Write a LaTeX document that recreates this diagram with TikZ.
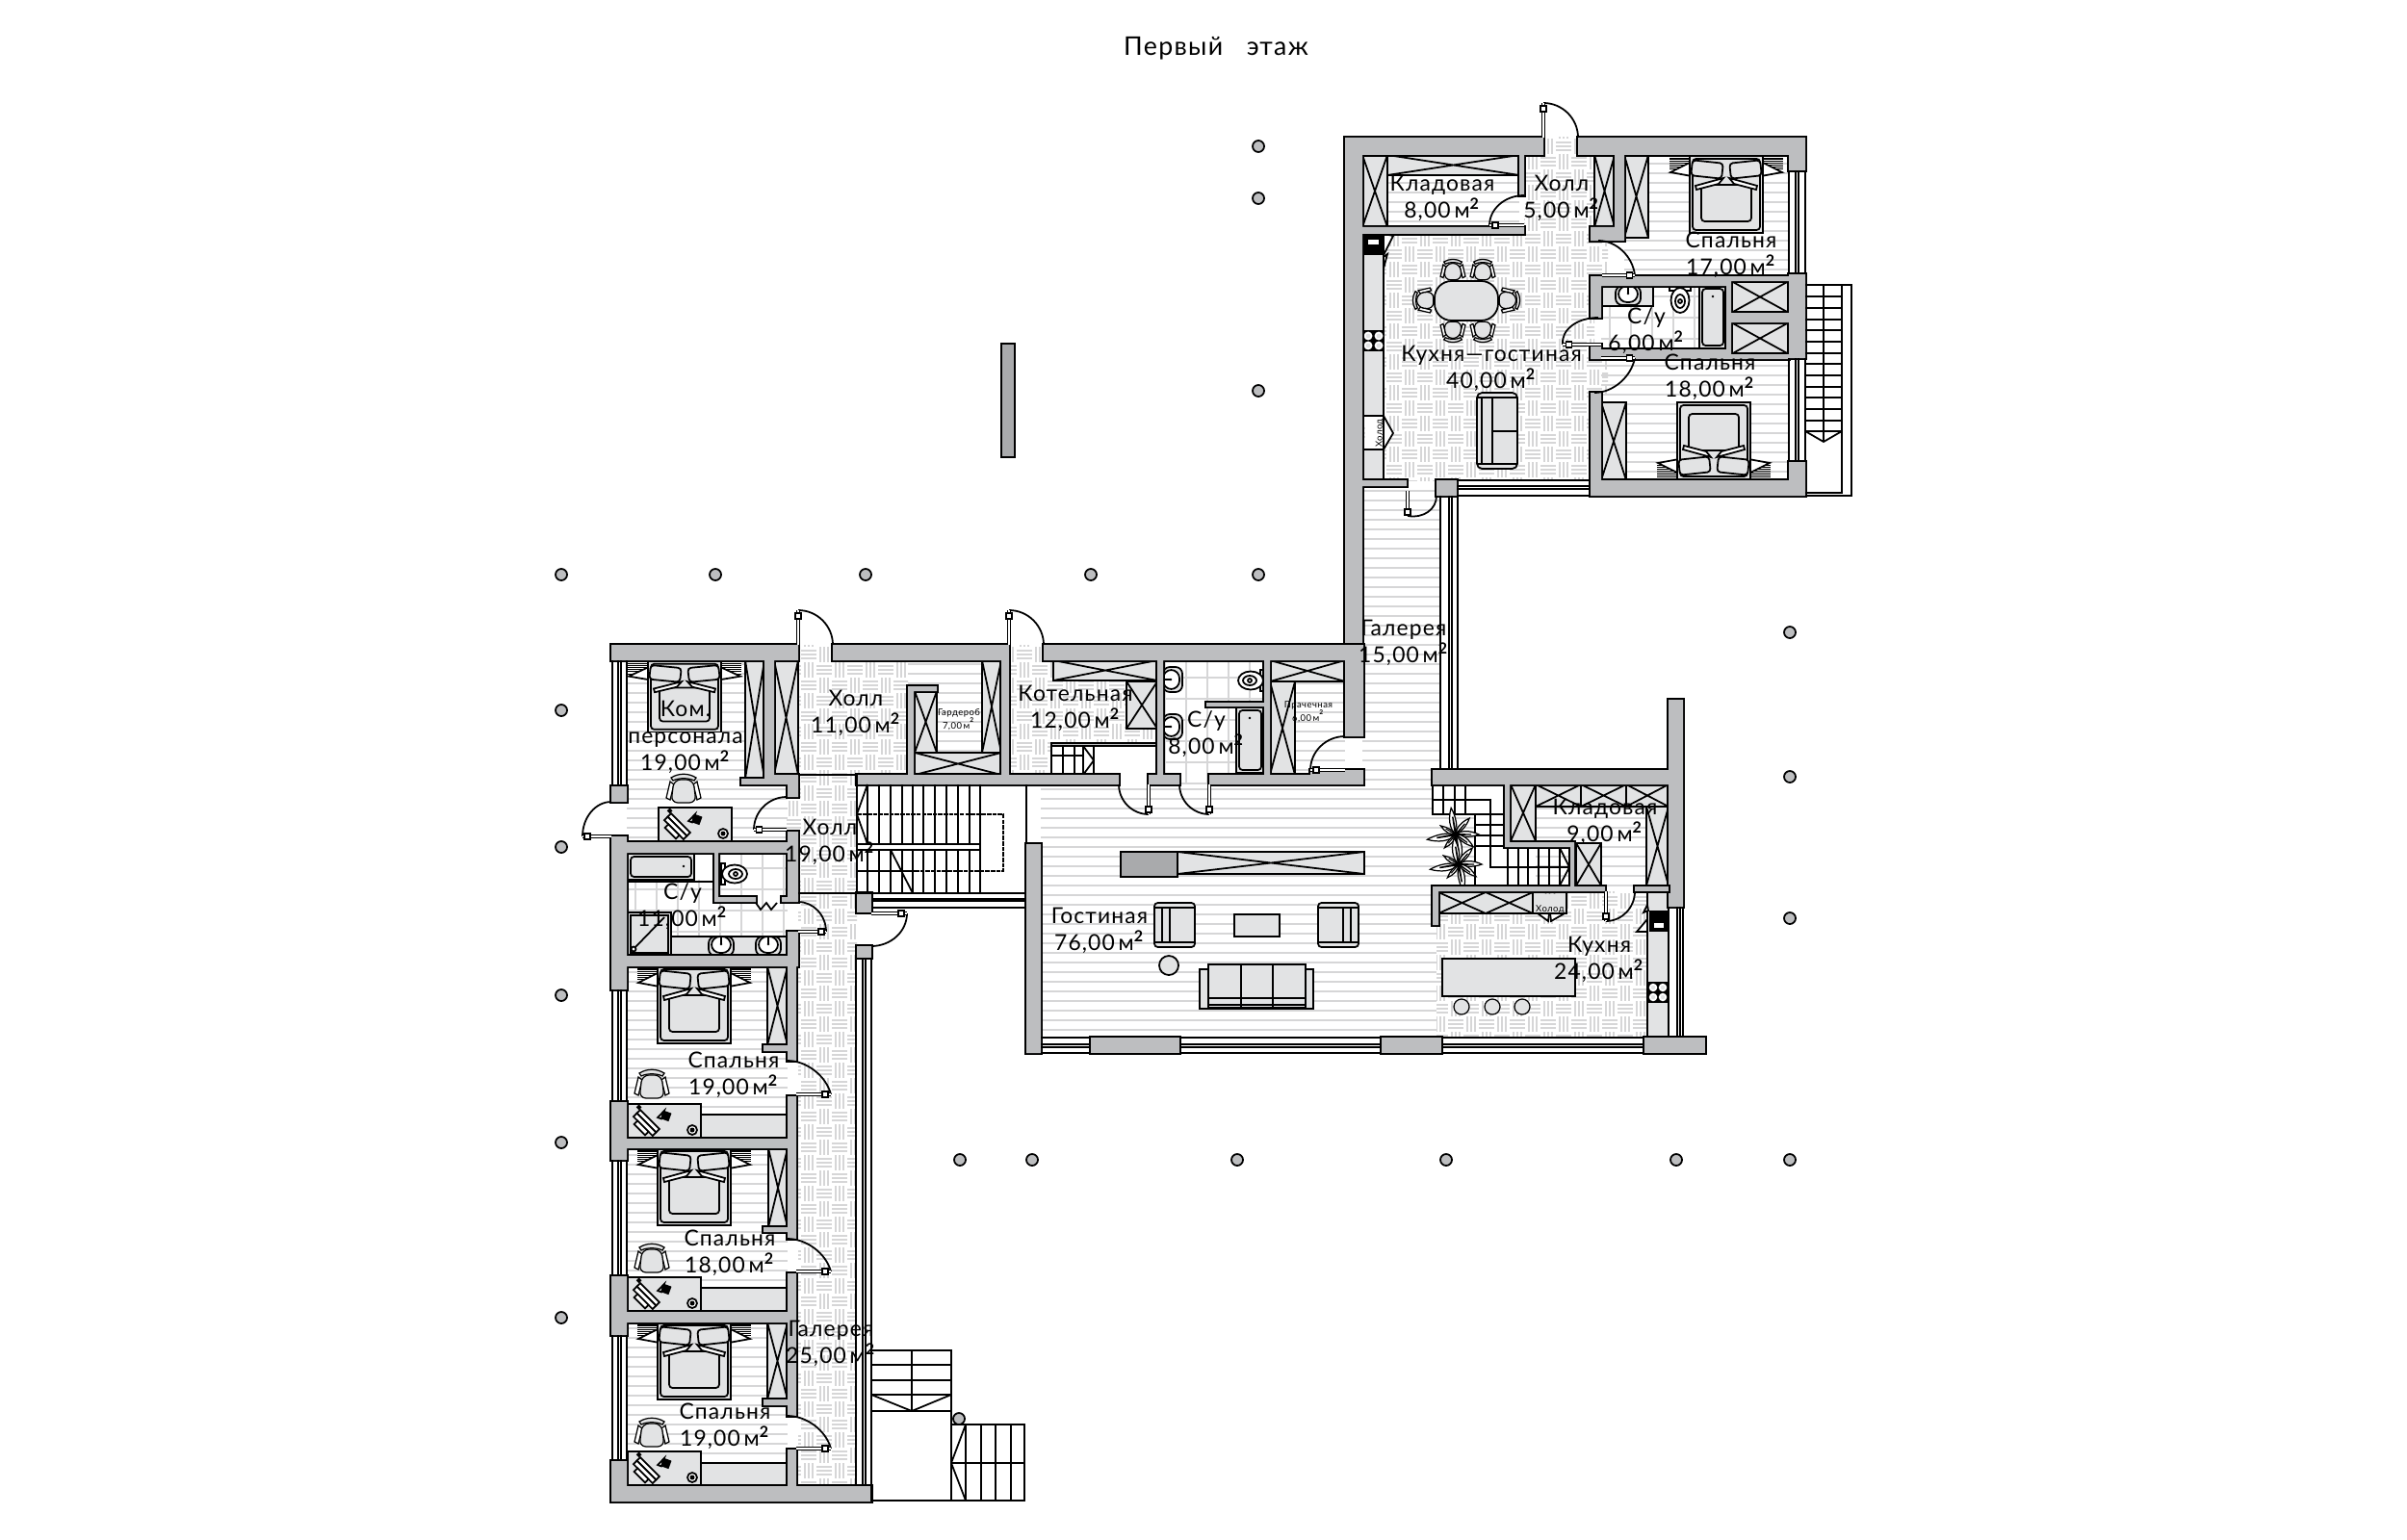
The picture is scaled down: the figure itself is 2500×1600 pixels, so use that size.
\documentclass[tikz,border=0pt]{standalone}
\usepackage{fontspec}
\setmainfont{Lato}[LetterSpace=5]
\usetikzlibrary{calc}

\definecolor{wallgray}{HTML}{BDBEC0}
\definecolor{furngray}{HTML}{E2E3E4}
\definecolor{blockgray}{HTML}{A9AAAC}
\definecolor{linegray}{HTML}{D6D6D7}

\tikzset{
  plan/.style={line width=0.5pt,black},
  thinplan/.style={line width=0.35pt,black},
  floorline/.style={line width=0.35pt,linegray},
  wallout/.style={line width=1pt,black,line join=miter},
  wallin/.style={wallgray},
  furn/.style={plan,fill=furngray},
  leafline/.style={line width=0.35pt,black,double=white,double distance=0.35pt},
  column/.style={plan,fill=wallgray},
  roomlabel/.style={align=center,inner sep=0pt,font=\fontsize{6.5}{7.9}\selectfont},
  tinylabel/.style={align=center,inner sep=0pt,font=\fontsize{2.7}{3.9}\selectfont},
}

\newcommand{\sqm}{\,м\textsuperscript{\bfseries 2}}

\newcommand{\hatchfloor}[4]{
\begin{scope}
\clip (#1,#2) rectangle (#3,#4);
\pgfmathtruncatemacro{\ya}{int(#2/10)*10}
\pgfmathtruncatemacro{\yn}{\ya+10}
\foreach \y in {\ya,\yn,...,#4} {\draw[floorline] (#1,\y) -- (#3,\y);}
\end{scope}}

\newcommand{\parquetfloor}[4]{
\begin{scope}
\clip (#1,#2) rectangle (#3,#4);
\pgfmathtruncatemacro{\ia}{#1/16}
\pgfmathtruncatemacro{\ib}{#3/16}
\pgfmathtruncatemacro{\ja}{#2/16}
\pgfmathtruncatemacro{\jb}{#4/16}
\foreach \i in {\ia,...,\ib} {
  \foreach \j in {\ja,...,\jb} {
    \pgfmathtruncatemacro{\odd}{mod(\i+\j,2)}
    \ifnum\odd=0
      \foreach \t in {4,8,12} {\draw[floorline] (\i*16,\j*16+\t) -- ++(16,0);}
    \else
      \foreach \t in {4,8,12} {\draw[floorline] (\i*16+\t,\j*16) -- ++(0,16);}
    \fi
  }
}
\end{scope}}

\newcommand{\tilefloor}[4]{
\begin{scope}
\clip (#1,#2) rectangle (#3,#4);
\foreach \x in {#1,...,#3} {\pgfmathtruncatemacro{\rest}{mod(\x,22)}\ifnum\rest=0 \draw[floorline] (\x,#2) -- (\x,#4);\fi}
\foreach \y in {#2,...,#4} {\pgfmathtruncatemacro{\rest}{mod(\y,22)}\ifnum\rest=0 \draw[floorline] (#1,\y) -- (#3,\y);\fi}
\end{scope}}

\newcommand{\closet}[4]{
\draw[furn] (#1,#2) rectangle (#3,#4);
\draw[plan] (#1,#2) -- (#3,#4) (#1,#4) -- (#3,#2);}

\newcommand{\wallblock}[1]{\draw[wallout] #1; \fill[wallin] #1;}

\newcommand{\winv}[6]{\foreach \x in {#1,#2,#3,#4} {\draw[plan] (\x,#5) -- (\x,#6);}}
\newcommand{\winh}[6]{\foreach \y in {#1,#2,#3,#4} {\draw[plan] (#5,\y) -- (#6,\y);}}

\newcommand{\doorpic}[6]{
\draw[plan] (#3,#4) .. controls ($(#3,#4)+0.55*(#5,#6)-0.55*(#1,#2)$) and ($(#5,#6)+0.55*(#3,#4)-0.55*(#1,#2)$) .. (#5,#6);
\draw[leafline] (#1,#2) -- (#3,#4);
\draw[plan,fill=white] ($(#1,#2)!0.84!(#3,#4)+(-3,-3)$) rectangle ($(#1,#2)!0.84!(#3,#4)+(3,3)$);}

\newcommand{\bedpic}[3]{
\begin{scope}[shift={(#1,#2)},yscale=#3]
\foreach \s in {-1,1} {
  \begin{scope}[xscale=\s]
  \fill[black] (36,2) rectangle (59,15);
  \foreach \t in {4,6,...,14} {\draw[white,line width=0.25pt] (36,\t) -- (59,\t);}
  \draw[plan,fill=white] (36,6) -- (58,17) -- (36,21) -- cycle;
  \end{scope}
}
\fill[furngray] (-38,0) rectangle (38,80);
\draw[plan] (-38,0) rectangle (38,80);
\draw[plan,rounded corners=1pt] (-35,3) rectangle (35,77);
\draw[plan,rounded corners=1pt] (-26,30) rectangle (26,68);
\foreach \s in {-1,1} {
  \begin{scope}[xscale=\s]
  \draw[plan,fill=white] (3,23) -- (32,31) -- (31,35) -- (8,29) -- cycle;
  \begin{scope}[shift={(20,14)},rotate=6]
  \draw[plan,fill=furngray,rounded corners=1pt] (-16,-8) rectangle (16,8);
  \end{scope}
  \end{scope}
}
\end{scope}}

\newcommand{\chairpic}[4]{
\begin{scope}[shift={(#1,#2)},rotate=#3,scale=#4]
\draw[thinplan,fill=white] (-14,-7) -- (-18,10) -- (-14,12) -- (-10,-4) -- cycle;
\draw[thinplan,fill=white] (14,-7) -- (18,10) -- (14,12) -- (10,-4) -- cycle;
\draw[thinplan,fill=furngray,rounded corners=2pt] (-10,-9) -- (10,-9) -- (13,15) -- (-13,15) -- cycle;
\draw[thinplan,fill=furngray] (-13,-11) .. controls (-5,-16) and (5,-16) .. (13,-11) -- (11,-8) .. controls (5,-11) and (-5,-11) .. (-11,-8) -- cycle;
\end{scope}}

\newcommand{\deskpic}[2]{
\begin{scope}[shift={(#1,#2)}]
\draw[furn] (0,0) rectangle (76,36);
\begin{scope}[shift={(18,21)},rotate=-45]
\draw[plan,fill=white] (-14,-7) rectangle (14,-2);
\draw[plan,fill=white] (-14,-2) rectangle (14,3);
\draw[plan,fill=white] (-8,3) rectangle (8,8);
\fill[black] (-19,-10) rectangle (-15,-6);
\end{scope}
\begin{scope}[shift={(40,13)},rotate=-20]
\fill[black] (-4,-5) rectangle (4,4);
\draw[plan,fill=white] (-4,-5) -- (-8,4) -- (-4,4) -- cycle;
\end{scope}
\draw[plan,fill=white] (67,27) circle (5);
\fill[black] (67,27) circle (2.5);
\end{scope}}

\newcommand{\sinkpic}[3]{
\begin{scope}[shift={(#1,#2)},rotate=#3]
\draw[plan,fill=furngray,rounded corners=2pt] (-13,-11) rectangle (13,9);
\draw[plan,fill=white,rounded corners=2.5pt] (-10,-11) rectangle (10,6);
\draw[plan] (0,-11) -- (0,-3);
\fill[black] (0,-3) circle (1.4);
\end{scope}}

\newcommand{\toiletpic}[3]{
\begin{scope}[shift={(#1,#2)},rotate=#3]
\draw[plan,fill=white] (-11,-13) rectangle (11,-9);
\draw[plan,fill=white] (0,1) ellipse (9.5 and 13);
\draw[plan] (0,2) ellipse (5 and 7);
\draw[plan] (0,2) circle (2);
\end{scope}}

\newcommand{\plantpic}[2]{
\begin{scope}[shift={(#1,#2)}]
\foreach \a/\l in {0/24,50/22,100/28,150/18,190/30,230/18,280/28,325/22} {
  \begin{scope}[rotate=\a,scale=\l/24]
  \draw[thinplan,fill=white] (0,0) .. controls (6,-5) and (16,-4) .. (24,0) .. controls (16,3) and (6,3) .. (0,0);
  \fill[black] (0,-1) -- (16,-0.6) -- (16,0.6) -- (0,1) -- cycle;
  \end{scope}
}
\end{scope}}

\begin{document}
\begin{tikzpicture}[x=0.01cm,y=-0.01cm]
\useasboundingbox (0,0) rectangle (2500,1600);
\fill[white] (0,0) rectangle (2500,1600);

% floors
\hatchfloor{1441}{182}{1578}{236}
\hatchfloor{1687}{161}{1858}{287}
\hatchfloor{1663}{373}{1858}{499}
\hatchfloor{1415}{505}{1496}{815}
\hatchfloor{1081}{815}{1492}{1078}
\hatchfloor{651}{686}{818}{875}
\hatchfloor{651}{1004}{818}{1183}
\hatchfloor{651}{1193}{818}{1363}
\hatchfloor{651}{1374}{818}{1544}
\hatchfloor{943}{686}{1040}{713}
\hatchfloor{973}{713}{1020}{782}
\hatchfloor{1345}{708}{1397}{815}
\hatchfloor{1595}{838}{1710}{921}
\parquetfloor{1437}{243}{1656}{499}
\parquetfloor{1583}{161}{1656}{243}
\parquetfloor{1603}{143}{1639}{161}
\parquetfloor{1656}{250}{1670}{287}
\parquetfloor{1656}{373}{1670}{408}
\parquetfloor{829}{670}{943}{805}
\parquetfloor{1048}{670}{1094}{805}
\parquetfloor{1094}{707}{1202}{772}
\parquetfloor{829}{805}{890}{1544}
\parquetfloor{817}{828}{829}{864}
\parquetfloor{1492}{949}{1711}{1078}
\parquetfloor{1627}{926}{1711}{949}
\tilefloor{1663}{318}{1793}{363}
\tilefloor{1717}{297}{1793}{318}
\tilefloor{652}{914}{818}{973}
\tilefloor{746}{886}{818}{932}
\tilefloor{1208}{686}{1313}{815}

% top block furniture
\closet{1415}{161}{1441}{236}
\closet{1441}{161}{1578}{182}
\closet{1656}{161}{1677}{236}
\closet{1687}{161}{1712}{247}
\closet{1798}{292}{1858}{325}
\closet{1798}{335}{1858}{368}
\closet{1663}{418}{1689}{499}
\draw[furn] (1415,243) rectangle (1437,499);
\fill[black] (1416,243) rectangle (1437,265);
\draw[plan,fill=white] (1420,248) rectangle (1433,255);
\fill[black] (1416,343) rectangle (1437,365);
\foreach \x/\y in {1421/349,1432/349,1421/359,1432/359} {\draw[plan,draw=white,fill=furngray] (\x,\y) circle (3.5);}
\draw[plan,fill=white] (1437,243) -- (1447,245) -- (1437,265) -- cycle;
\draw[plan,fill=white] (1437,267) -- (1441,264) -- (1437,279) -- cycle;
\draw[plan,fill=white] (1437,432) -- (1447,450) -- (1437,467) -- cycle;
\draw[plan,fill=white] (1415,432) rectangle (1437,467);
\node (fridgeTop) [tinylabel,rotate=90] at (1426,450) {***\\Холод};
\draw[furn,rounded corners=5pt] (1490,292) rectangle (1556,333);
\chairpic{1509}{280}{0}{0.72}
\chairpic{1540}{280}{0}{0.72}
\chairpic{1509}{345}{180}{0.72}
\chairpic{1540}{345}{180}{0.72}
\chairpic{1478}{312}{90}{0.72}
\chairpic{1568}{312}{-90}{0.72}
\draw[furn,rounded corners=1.5pt] (1534,408) rectangle (1576,487);
\draw[plan] (1539,413) rectangle (1550,482) (1534,413) -- (1576,413) (1534,482) -- (1576,482) (1550,448) -- (1576,448);
\bedpic{1793}{162}{1}
\bedpic{1780}{498}{-1}
\draw[furn] (1663,297) rectangle (1717,318);
\sinkpic{1691}{308}{0}
\toiletpic{1745}{311}{0}
\draw[furn] (1765,297) rectangle (1793,362);
\draw[plan,rounded corners=1pt] (1768,300) rectangle (1790,359);
\fill[black] (1779,308) circle (1.4);

% west wing furniture
\closet{774}{686}{794}{809}
\closet{804}{686}{829}{805}
\closet{797}{1004}{818}{1086}
\closet{798}{1193}{818}{1275}
\closet{797}{1374}{818}{1454}
\bedpic{711}{687}{0.92}
\bedpic{721}{1004}{1}
\bedpic{721}{1193}{1}
\bedpic{721}{1374}{1}
\chairpic{710}{819}{0}{1}
\chairpic{677}{1126}{0}{1}
\chairpic{677}{1307}{0}{1}
\chairpic{677}{1488}{0}{1}
\deskpic{684}{839}
\deskpic{652}{1147}
\deskpic{652}{1327}
\deskpic{652}{1508}
\draw[furn] (728,1158) rectangle (818,1183);
\draw[furn] (728,1338) rectangle (818,1363);
\draw[furn] (728,1520) rectangle (818,1544);
\draw[furn] (652,887) rectangle (721,914);
\draw[plan,rounded corners=1pt] (655,890) rectangle (718,911);
\fill[black] (710,900) circle (1.4);
\draw[plan] (652,916) -- (742,916);
\draw[furn] (697,973) rectangle (818,993);
\draw[furn] (652,948) rectangle (697,993);
\draw[plan] (655,951) rectangle (694,990) (659,985) -- (690,953);
\draw[plan,fill=white] (658,986) circle (2.5);
\sinkpic{749}{984}{0}
\sinkpic{798}{984}{0}
\toiletpic{762}{908}{90}
\draw[plan] (785,938) -- (790,945) -- (796,938) -- (801,945) -- (807,938);

% north rooms
\closet{950}{718}{973}{782}
\closet{950}{782}{1040}{805}
\closet{1020}{686}{1040}{782}
\closet{1094}{686}{1202}{707}
\closet{1170}{708}{1202}{757}
\closet{1319}{686}{1397}{708}
\closet{1319}{708}{1345}{805}
\sinkpic{1219}{706}{90}
\sinkpic{1219}{755}{90}
\toiletpic{1300}{707}{-90}
\draw[furn] (1284,735) rectangle (1313,803);
\draw[plan,rounded corners=1pt] (1287,738) rectangle (1310,800);
\fill[black] (1298,746) circle (1.4);
\fill[white] (1092,775) rectangle (1202,805);
\draw[plan,fill=wallgray] (1092,772) rectangle (1202,775);
\foreach \x in {1092,1104,1116,1125,1136} {\draw[plan] (\x,775) -- (\x,805);}
\draw[plan] (1092,785) -- (1125,785) (1125,775) -- (1136,790) -- (1125,805);

% living room
\draw[plan,fill=blockgray] (1164,885) rectangle (1223,911);
\closet{1223}{885}{1417}{908}
\foreach \x in {1199,1369} {
  \draw[furn,rounded corners=1pt] (\x,938) rectangle (\x+42,984);
  \draw[plan] (\x,943) -- (\x+42,943) (\x,979) -- (\x+42,979);
}
\draw[plan] (1207,943) -- (1207,979) (1215,943) -- (1215,979);
\draw[plan] (1395,943) -- (1395,979) (1403,943) -- (1403,979);
\draw[furn] (1282,950) rectangle (1329,973);
\draw[furn] (1214,1003) circle (10);
\draw[furn] (1246,1007) rectangle (1364,1048);
\draw[furn] (1255,1002) rectangle (1356,1047);
\draw[plan] (1289,1002) -- (1289,1047) (1322,1002) -- (1322,1047) (1255,1037) -- (1356,1037) (1255,1044) -- (1356,1044);

% east kitchen
\fill[white] (1488,815) rectangle (1563,921);
\closet{1569}{815}{1595}{874}
\closet{1595}{815}{1642}{838}
\closet{1642}{815}{1689}{838}
\closet{1689}{815}{1733}{838}
\closet{1710}{838}{1733}{920}
\closet{1637}{876}{1663}{920}
\hatchfloor{1488}{846}{1532}{921}
\draw[plan] (1488,815) -- (1488,846) -- (1532,846) -- (1532,921);
\foreach \x in {1499,1511,1522} {\draw[plan] (\x,815) -- (\x,846);}
\draw[plan] (1488,831) -- (1548,831) -- (1548,901) -- (1630,901);
\foreach \y in {846,857,868,879} {\draw[plan] (1532,\y) -- (1563,\y);}
\foreach \x in {1566,1577,1587,1598,1609,1620,1630} {\draw[plan] (\x,881) -- (\x,920);}
\draw[plan] (1620,881) -- (1630,901) -- (1620,920);
\plantpic{1512}{867}
\plantpic{1515}{898}
\draw[furn] (1494,927) rectangle (1592,949);
\draw[plan] (1494,927) -- (1543,949) -- (1592,927) (1494,949) -- (1543,927) -- (1592,949);
\draw[plan,fill=white] (1597,949) -- (1608,957) -- (1609,949) -- cycle;
\draw[plan,fill=white] (1625,949) -- (1611,957) -- (1610,949) -- cycle;
\draw[furn] (1592,927) rectangle (1627,949);
\node (fridgeKitchen) [tinylabel] at (1610,938) {***\\Холод};
\draw[furn] (1498,996) rectangle (1636,1035);
\foreach \x in {1518,1550,1581} {\draw[thinplan,fill=furngray] (\x,1046) circle (8);}
\draw[furn] (1711,926) rectangle (1733,1078);
\fill[black] (1713,946) rectangle (1732,968);
\draw[plan,fill=white] (1717,958) rectangle (1729,965);
\fill[black] (1712,1020) rectangle (1732,1042);
\foreach \x/\y in {1717/1026,1727/1026,1717/1036,1727/1036} {\draw[plan,draw=white,fill=furngray] (\x,\y) circle (3.3);}
\draw[plan,fill=white] (1711,940) -- (1707,948) -- (1712,946) -- cycle;
\draw[plan,fill=white] (1711,955) -- (1700,968) -- (1711,968) -- cycle;

% walls
\wallblock{(1397,143) rectangle (1603,161) (1639,143) rectangle (1875,161)
  (1397,143) rectangle (1415,765) (1858,143) rectangle (1875,177)
  (1858,285) rectangle (1875,372) (1858,480) rectangle (1875,515)
  (1652,499) rectangle (1875,515) (1652,408) rectangle (1663,515)
  (1415,499) rectangle (1461,505) (1492,499) rectangle (1513,515)
  (1415,236) rectangle (1583,243) (1578,161) rectangle (1583,203)
  (1677,161) rectangle (1687,247) (1652,236) rectangle (1687,250)
  (1652,287) rectangle (1798,297) (1652,287) rectangle (1663,330)
  (1652,358) rectangle (1663,373) (1652,363) rectangle (1798,373)
  (1793,287) rectangle (1798,373) (1798,325) rectangle (1858,335)
  (1798,287) rectangle (1858,292) (1798,368) rectangle (1858,373)}
\wallblock{(635,670) rectangle (829,686) (865,670) rectangle (1048,686) (1084,670) rectangle (1416,686)
  (635,670) rectangle (651,686) (635,817) rectangle (651,833) (635,869) rectangle (651,1028)
  (635,1145) rectangle (651,1205) (635,1326) rectangle (651,1387) (635,1518) rectangle (651,1560)
  (635,1544) rectangle (905,1560)
  (651,875) rectangle (829,886) (651,993) rectangle (829,1004)
  (651,1183) rectangle (818,1193) (651,1363) rectangle (818,1374)
  (794,686) rectangle (804,805) (794,805) rectangle (829,815) (770,809) rectangle (794,815)
  (818,815) rectangle (829,828) (818,864) rectangle (829,937)
  (818,968) rectangle (829,1004) (818,993) rectangle (827,1102)
  (793,1086) rectangle (818,1092) (793,1275) rectangle (818,1280) (793,1454) rectangle (818,1460)
  (818,1139) rectangle (827,1287) (818,1323) rectangle (827,1471) (818,1506) rectangle (827,1544)
  (742,886) rectangle (746,937) (742,932) rectangle (785,937) (812,932) rectangle (818,937)
  (890,805) rectangle (1162,815) (1193,805) rectangle (1225,815) (1256,805) rectangle (1416,815)
  (1361,800) rectangle (1416,815) (1397,670) rectangle (1416,765)
  (1040,686) rectangle (1048,805) (943,713) rectangle (949,805) (943,713) rectangle (973,718)
  (1202,686) rectangle (1208,805) (1313,686) rectangle (1319,805) (1253,730) rectangle (1313,734)}
\wallblock{(890,928) rectangle (905,948)}
\wallblock{(890,983) rectangle (905,995)}
\wallblock{(1066,877) rectangle (1081,1094) (1066,1078) rectangle (1081,1094)}
\wallblock{(1133,1078) rectangle (1225,1094)}
\wallblock{(1435,1078) rectangle (1497,1094)}
\wallblock{(1708,1078) rectangle (1771,1094)}
\wallblock{(1488,800) rectangle (1748,815) (1733,727) rectangle (1748,942)
  (1563,815) rectangle (1568,880) (1563,875) rectangle (1635,880) (1631,875) rectangle (1635,926)
  (1488,921) rectangle (1667,926) (1488,921) rectangle (1494,961)}
\wallblock{(1698,921) rectangle (1733,926)}

% windows
\winv{1858}{1865}{1868}{1875}{177}{285}
\winv{1858}{1865}{1868}{1875}{372}{480}
\winh{499}{505}{508}{515}{1513}{1652}
\winv{1496}{1505}{1508}{1514}{515}{800}
\winv{636}{642}{645}{651}{686}{817}
\winv{636}{642}{645}{651}{1028}{1145}
\winv{636}{642}{645}{651}{1205}{1326}
\winv{636}{642}{645}{651}{1387}{1518}
\winv{889}{896}{899}{905}{995}{1544}
\winh{928}{934}{936}{943}{905}{1065}
\winh{1078}{1085}{1088}{1094}{1081}{1133}
\winh{1078}{1085}{1088}{1094}{1225}{1435}
\winh{1078}{1085}{1088}{1094}{1497}{1708}
\winv{1733}{1742}{1745}{1748}{942}{1078}

% central stairs
\foreach \x in {901,913,925,937,948,959,971,983,995,1007,1018} {
  \draw[plan] (\x,815) -- (\x,877);
  \draw[plan] (\x,883) -- (\x,928);
}
\draw[plan,fill=white] (890,877) rectangle (1018,883);
\draw[plan] (890,805) -- (890,928) (1066,815) -- (1066,877);
\draw[plan,dash pattern=on 1.3pt off 0.3pt] (890,846) -- (1042,846) -- (1042,905) -- (950,905);
\draw[plan] (890,905) -- (950,905) (829,805) -- (890,805) (829,928) -- (1066,928);
\draw[plan] (901,815) -- (890,846) -- (901,877) (925,883) -- (948,928);

% outside stairs
\draw[plan] (1875,296) -- (1923,296) -- (1923,515) -- (1875,515);
\draw[plan] (1913,296) -- (1913,512) -- (1875,512);
\foreach \y in {308,320,332,343,355,367,378,390,402,413,425,437,448} {\draw[plan] (1875,\y) -- (1913,\y);}
\draw[plan] (1894,296) -- (1894,459) (1875,448) -- (1894,459) -- (1913,448);
\draw[plan] (905,1403) rectangle (988,1466);
\foreach \y in {1418,1434,1449} {\draw[plan] (905,\y) -- (988,\y);}
\draw[plan] (947,1403) -- (947,1466) (905,1449) -- (947,1466) -- (988,1449);
\draw[plan] (905,1466) -- (905,1559) -- (988,1559);
\draw[plan] (988,1466) -- (988,1559);
\draw[plan] (988,1480) rectangle (1064,1559);
\foreach \x in {1003,1019,1034,1050} {\draw[plan] (\x,1480) -- (\x,1559);}
\draw[plan] (988,1520) -- (1064,1520) (1003,1480) -- (988,1520) -- (1003,1559);

% doors
\doorpic{1603}{143}{1603}{107}{1639}{143}
\doorpic{1583}{234}{1547}{234}{1583}{203}
\doorpic{1664}{286}{1698}{286}{1660}{250}
\doorpic{1663}{358}{1623}{358}{1660}{330}
\doorpic{1663}{372}{1698}{372}{1656}{408}
\doorpic{1462}{510}{1462}{536}{1492}{515}
\doorpic{829}{670}{829}{634}{865}{670}
\doorpic{1048}{670}{1048}{634}{1084}{670}
\doorpic{817}{862}{783}{862}{817}{828}
\doorpic{635}{869}{605}{869}{635}{833}
\doorpic{829}{968}{858}{968}{829}{937}
\doorpic{905}{949}{942}{949}{905}{983}
\doorpic{827}{1137}{863}{1137}{818}{1102}
\doorpic{827}{1321}{863}{1321}{818}{1287}
\doorpic{827}{1505}{863}{1505}{818}{1471}
\doorpic{1193}{815}{1193}{846}{1162}{815}
\doorpic{1256}{815}{1256}{846}{1225}{815}
\doorpic{1397}{800}{1361}{800}{1397}{765}
\doorpic{1668}{926}{1668}{957}{1698}{926}

% columns
\foreach \x/\y in {1307/152,1307/206,1307/406,1307/597,1133/597,899/597,743/597,583/597,
  583/738,583/880,583/1034,583/1187,583/1369,1859/657,1859/807,1859/954,
  1859/1205,1741/1205,1502/1205,1285/1205,1072/1205,997/1205,996/1474} {
  \draw[column] (\x,\y) circle (6);
}
\draw[plan,fill=blockgray] (1040,357) rectangle (1054,475);

% labels
\node (title) [inner sep=0pt,font=\fontsize{7.6}{9}\selectfont] at (1263,50) {Первый\ \ \ этаж};
\node (storeTop) [roomlabel] at (1498,206) {Кладовая\\8,00\sqm};
\node (hallTop) [roomlabel] at (1622,206) {Холл\\5,00\sqm};
\node (bedTopA) [roomlabel] at (1798,265) {Спальня\\17,00\sqm};
\node (wcTop) [roomlabel] at (1710,344) {С/у\\6,00\sqm};
\node (bedTopB) [roomlabel] at (1776,392) {Спальня\\18,00\sqm};
\node (kitchenLiving) [roomlabel] at (1549,383) {Кухня---гостиная\\40,00\sqm};
\node (galleryEast) [roomlabel] at (1458,668) {Галерея\\15,00\sqm};
\node (hallNorth) [roomlabel] at (889,741) {Холл\\11,00\sqm};
\node (staffRoom) [roomlabel] at (712,766) {Ком.\\персонала\\19,00\sqm};
\node (wardrobe) [tinylabel] at (996,748) {Гардероб\\7,00\sqm};
\node (boiler) [roomlabel] at (1117,736) {Котельная\\12,00\sqm};
\node (wcMiddle) [roomlabel] at (1253,763) {С/у\\8,00\sqm};
\node (laundry) [tinylabel] at (1359,740) {Прачечная\\6,00\sqm};
\node (hallWest) [roomlabel] at (862,875) {Холл\\19,00\sqm};
\node (wcWest) [roomlabel] at (709,942) {С/у\\11,00\sqm};
\node (living) [roomlabel] at (1142,967) {Гостиная\\76,00\sqm};
\node (storeEast) [roomlabel] at (1667,854) {Кладовая\\9,00\sqm};
\node (kitchen) [roomlabel] at (1661,997) {Кухня\\24,00\sqm};
\node (bedWestA) [roomlabel] at (762,1117) {Спальня\\19,00\sqm};
\node (bedWestB) [roomlabel] at (758,1302) {Спальня\\18,00\sqm};
\node (galleryWest) [roomlabel] at (863,1396) {Галерея\\25,00\sqm};
\node (bedWestC) [roomlabel] at (753,1482) {Спальня\\19,00\sqm};
\end{tikzpicture}
\end{document}
